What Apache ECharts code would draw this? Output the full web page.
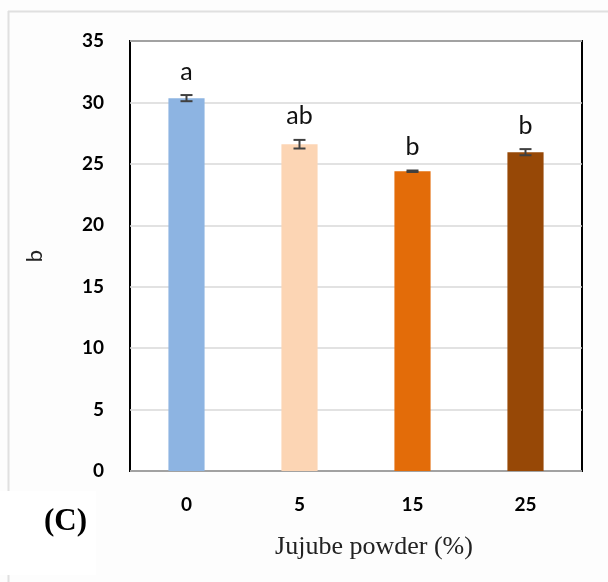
<!DOCTYPE html>
<html><head><meta charset="utf-8">
<script src="https://cdn.jsdelivr.net/npm/echarts@6/dist/echarts.min.js"></script>
<style>html,body{margin:0;padding:0;background:#fff}#c{width:608px;height:582px}</style>
</head><body><div id="c"></div>
<script>
const categories = ['0', '5', '15', '25'];
const values = [30.35, 26.6, 24.4, 25.95];
const errors = [0.25, 0.35, 0.06, 0.25];
const letters = ['a', 'ab', 'b', 'b'];
const colors = ['#8db4e2', '#fcd5b4', '#e36c09', '#974806'];
const yTicks = [0, 5, 10, 15, 20, 25, 30, 35];

const chart = echarts.init(document.getElementById('c'));
const tickFont = 'Lato, "Open Sans", sans-serif';
chart.setOption({
  animation: false,
  backgroundColor: '#fdfdfd',
  grid: { left: 130, right: 26, top: 41, bottom: 111, show: true, borderColor: '#000', borderWidth: 2, backgroundColor: '#fff' },
  xAxis: {
    type: 'category', data: categories,
    axisLine: { show: false }, axisTick: { show: false },
    axisLabel: { margin: 24, fontFamily: tickFont, fontWeight: 'bold', fontSize: 19, color: '#000' },
    name: 'Jujube powder (%)', nameLocation: 'middle', nameGap: 63,
    nameTextStyle: { fontFamily: '"Liberation Serif", "Times New Roman", serif', fontSize: 26, color: '#222', padding: [0, 0, 0, 36] }
  },
  yAxis: {
    type: 'value', min: yTicks[0], max: yTicks[yTicks.length - 1], interval: 5,
    axisLine: { show: false }, axisTick: { show: false },
    splitLine: { lineStyle: { color: '#d9d9d9', width: 1.5 } },
    axisLabel: { margin: 26, fontFamily: tickFont, fontWeight: 'bold', fontSize: 19, color: '#000' },
    name: 'b', nameLocation: 'middle', nameGap: 84, nameRotate: 90,
    nameTextStyle: { fontFamily: tickFont, fontSize: 22, color: '#222' }
  },
  series: [
    {
      type: 'bar', barWidth: '32%',
      data: values.map((v, i) => ({ value: v, itemStyle: { color: colors[i] } })),
      z: 2
    },
    {
      type: 'custom', z: 5,
      data: values.map((v, i) => [i, v, errors[i], letters[i]]),
      renderItem: function (params, api) {
        const x = api.value(0), v = api.value(1), e = api.value(2);
        const top = api.coord([x, v + e]);
        const bot = api.coord([x, v - e]);
        const hw = 6;
        const st = { stroke: '#404040', lineWidth: 2 };
        return {
          type: 'group',
          children: [
            { type: 'line', shape: { x1: top[0], y1: top[1], x2: bot[0], y2: bot[1] }, style: st },
            { type: 'line', shape: { x1: top[0] - hw, y1: top[1], x2: top[0] + hw, y2: top[1] }, style: st },
            { type: 'line', shape: { x1: bot[0] - hw, y1: bot[1], x2: bot[0] + hw, y2: bot[1] }, style: st },
            { type: 'text', style: { text: letters[params.dataIndex], x: top[0], y: top[1] - 11, textAlign: 'center', textVerticalAlign: 'bottom', fontFamily: tickFont, fontSize: 25, fill: '#111' } }
          ]
        };
      }
    }
  ],
  graphic: [
    { type: 'line', shape: { x1: 8, y1: 11.5, x2: 608, y2: 11.5 }, style: { stroke: '#e0e0e0', lineWidth: 2 }, z: 0 },
    { type: 'line', shape: { x1: 8.5, y1: 11, x2: 8.5, y2: 582 }, style: { stroke: '#e0e0e0', lineWidth: 2 }, z: 0 },
    { type: 'rect', shape: { x: 0, y: 491, width: 96, height: 84 }, style: { fill: '#fff' }, z: 1 },
    { type: 'text', x: 44, y: 506, style: { text: '(C)', fontFamily: '"Liberation Serif", "Times New Roman", serif', fontWeight: 'bold', fontSize: 31, fill: '#000' }, z: 2 }
  ]
});
</script></body></html>
